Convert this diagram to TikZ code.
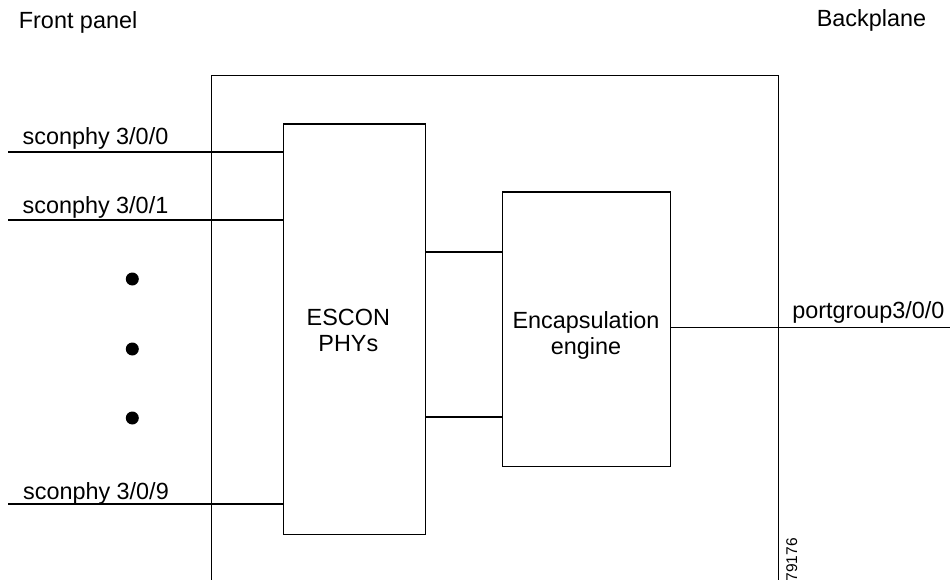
\documentclass[tikz,border=0pt]{standalone}
\usepackage{fontspec}
\setmainfont{Liberation Sans}
\begin{document}
\begin{tikzpicture}[x=1pt,y=-1pt,
  line width=1.2pt,
  lbl/.style={font=\fontsize{23.4}{28}\selectfont, inner sep=0pt},
  blk/.style={draw, inner sep=0pt, anchor=north west},
  dotmark/.style={circle, fill, draw=none, inner sep=0pt, minimum size=13pt}]
\useasboundingbox (0,0) rectangle (950,580);
% outer frame (open at the bottom)
\coordinate (obl) at (211.7,582);
\coordinate (otl) at (211.7,75.7);
\coordinate (otr) at (778.3,75.7);
\coordinate (obr) at (778.3,582);
\draw (obl) -- (otl) -- (otr) -- (obr);
% blocks
\node[blk, minimum width=142.3pt, minimum height=410.5pt] (escon) at (282.7,123.5) {};
\node[blk, minimum width=168.3pt, minimum height=274.5pt] (encap) at (501.7,191.5) {};
% texts
\node[lbl, anchor=base west] (fp) at (18.3,28.3) {Front panel};
\node[lbl, anchor=base east] (bp) at (926.7,27) {Backplane};
\node[lbl, anchor=base west] (l0) at (22,145) {sconphy 3/0/0};
\node[lbl, anchor=base west] (l1) at (22,213.3) {sconphy 3/0/1};
\node[lbl, anchor=base west] (l9) at (22.5,499) {sconphy 3/0/9};
\node[lbl, anchor=base] (e1) at (348.3,325) {ESCON};
\node[lbl, anchor=base] (e2) at (348.3,351) {PHYs};
\node[lbl, anchor=base] (c1) at (586,328) {Encapsulation};
\node[lbl, anchor=base] (c2) at (586,354) {engine};
\node[lbl, anchor=base west] (pg) at (791.7,318.3) {portgroup3/0/0};
\node[font=\fontsize{15.5}{18}\selectfont, inner sep=0pt, rotate=90, anchor=base west] (id) at (797,582) {79176};
% input lines
\coordinate (s0) at (8.3,152);
\coordinate (s1) at (8.3,220);
\coordinate (s9) at (8.3,504);
\draw (s0) -- (s0 -| escon.west);
\draw (s1) -- (s1 -| escon.west);
\draw (s9) -- (s9 -| escon.west);
% inner links
\coordinate (k1) at (450,252);
\coordinate (k2) at (450,417);
\draw (escon.east |- k1) -- (encap.west |- k1);
\draw (escon.east |- k2) -- (encap.west |- k2);
% output line
\coordinate (pe) at (950,327.7);
\draw (encap.east |- pe) -- (pe);
% dots
\node[dotmark] (d1) at (132.3,279) {};
\node[dotmark] (d2) at (132.3,349) {};
\node[dotmark] (d3) at (132.3,418) {};
\end{tikzpicture}
\end{document}
